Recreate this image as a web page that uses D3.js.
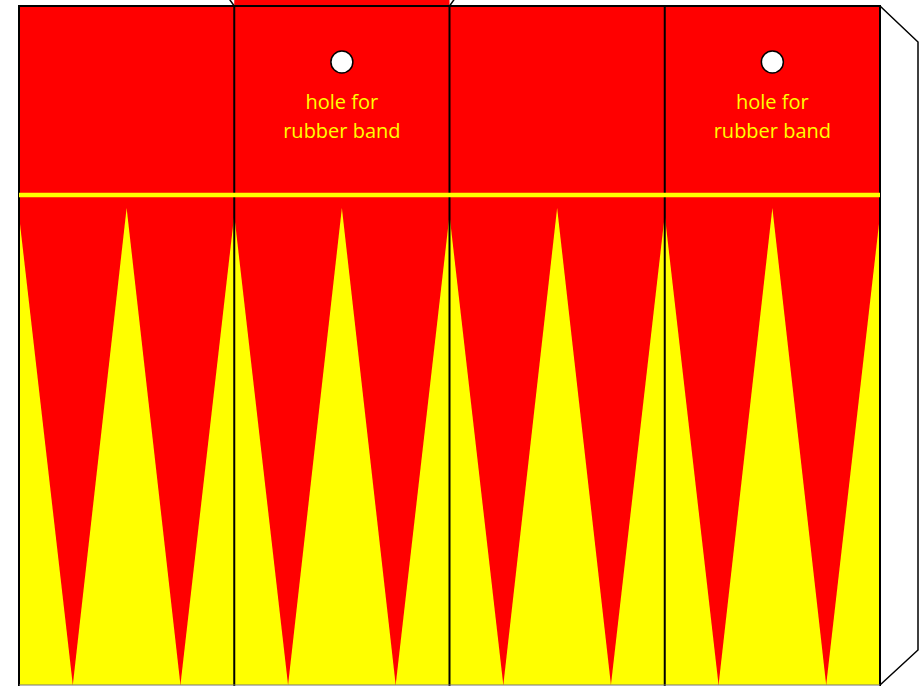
<!DOCTYPE html>
<html>
<head>
<meta charset="utf-8">
<script src="https://cdn.jsdelivr.net/npm/d3@7"></script>
<style>
  body { margin: 0; background: #fff; }
  svg { display: block; }
</style>
</head>
<body>
<div id="sheet"></div>
<script>
// template data
var panels = [0, 1, 2, 3];          // four side panels of the tube
var holePanels = [1, 3];            // panels that get a hole + label
var holeLabel = ["hole for", "rubber band"];
// yellow spikes inside one panel, in panel units (x) and band units (y)
var spikes = [
    [[0, 0.015], [0.25, 1], [0, 1]],      // left edge
    [[0.5, 0], [0.25, 1], [0.75, 1], [0.5, 0]],  // centre
    [[1, 0.015], [0.75, 1], [1, 1]]       // right edge
];

var W = 923, H = 686;
var vis = d3.select("#sheet")
    .append("svg")
    .attr("width", W).attr("height", H);

var x = d3.scaleLinear().domain([0, 4]).range([19, 880]);
var yTop = 6, yStripe = 195, yBand0 = 208, yBottom = 685;
var yb = d3.scaleLinear().domain([0, 1]).range([yBand0, yBottom]);

// top tab above panel 2
vis.append("rect")
    .attr("x", x(1)).attr("y", 0)
    .attr("width", x(2) - x(1)).attr("height", yTop)
    .attr("fill", "red");
vis.append("path")
    .attr("d", "M" + (x(1) - 5) + ",-1 L" + x(1) + "," + yTop + " M" + (x(2) + 5) + ",-1 L" + x(2) + "," + yTop)
    .attr("fill", "none").attr("stroke", "black").attr("stroke-width", 1.5);

// right glue flap
vis.append("path")
    .attr("d", "M" + x(4) + "," + yTop + " L918,42 L918,650 L" + x(4) + "," + yBottom)
    .attr("fill", "white").attr("stroke", "black").attr("stroke-width", 1.5);

// red body
vis.append("rect")
    .attr("x", x(0)).attr("y", yTop)
    .attr("width", x(4) - x(0)).attr("height", yBottom - yTop)
    .attr("fill", "red");

// yellow spikes
var line = d3.line();
panels.forEach(function (p) {
    var px = d3.scaleLinear().domain([0, 1]).range([x(p), x(p + 1)]);
    vis.append("g").selectAll("path")
        .data(spikes)
        .enter()
        .append("path")
        .attr("d", function (d) {
            return line(d.map(function (q) { return [px(q[0]), yb(q[1])]; })) + "Z";
        })
        .attr("fill", "yellow");
});

// panel folds and outline
vis.selectAll("line.fold")
    .data(d3.range(5))
    .enter()
    .append("line")
    .attr("class", "fold")
    .attr("x1", function (d) { return x(d); })
    .attr("x2", function (d) { return x(d); })
    .attr("y1", yTop).attr("y2", yBottom + 1)
    .attr("stroke", "black").attr("stroke-width", 2);
vis.append("line")
    .attr("x1", x(0) - 1).attr("x2", x(4) + 1)
    .attr("y1", yTop).attr("y2", yTop)
    .attr("stroke", "black").attr("stroke-width", 2);
vis.append("line")
    .attr("x1", x(0)).attr("x2", x(4))
    .attr("y1", yBottom).attr("y2", yBottom)
    .attr("stroke", "#777").attr("stroke-width", 1);

// yellow stripe
vis.append("line")
    .attr("x1", x(0)).attr("x2", x(4))
    .attr("y1", yStripe).attr("y2", yStripe)
    .attr("stroke", "yellow").attr("stroke-width", 4.5);

// holes and labels
holePanels.forEach(function (p) {
    var cx = (x(p) + x(p + 1)) / 2;
    vis.append("circle")
        .attr("cx", cx).attr("cy", 62).attr("r", 11)
        .attr("fill", "white").attr("stroke", "black").attr("stroke-width", 1.5);
    vis.selectAll("text.p" + p)
        .data(holeLabel)
        .enter()
        .append("text")
        .attr("x", cx)
        .attr("y", function (d, i) { return 109 + i * 29; })
        .attr("text-anchor", "middle")
        .attr("font-family", "Open Sans, sans-serif")
        .attr("font-size", "20px")
        .attr("fill", "yellow")
        .text(function (d) { return d; });
});
</script>
</body>
</html>
